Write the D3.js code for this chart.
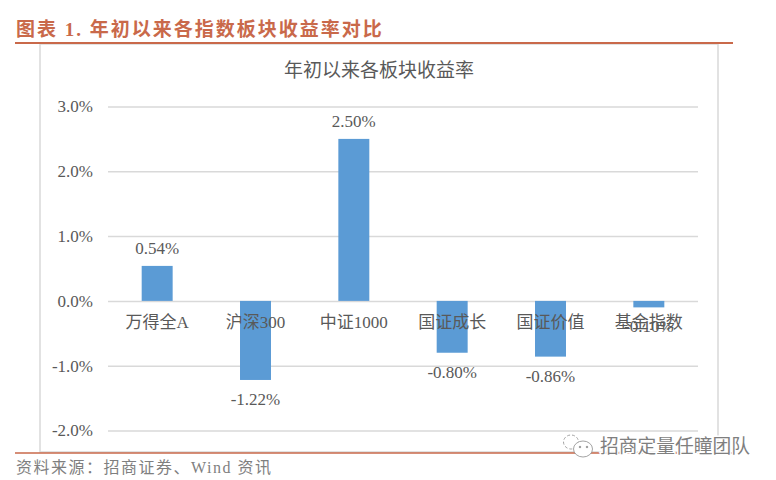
<!DOCTYPE html>
<html>
<head>
<meta charset="utf-8">
<script src="https://cdn.jsdelivr.net/npm/d3@7"></script>
<style>
html, body { margin: 0; padding: 0; background: #fff; }
svg { display: block; }
text { font-family: "Liberation Serif", "Noto Sans CJK SC", serif; }
</style>
</head>
<body>
<svg id="chart" width="776" height="480"></svg>
<script>
var categories = [ '万得全A', '沪深300', '中证1000', '国证成长', '国证价值', '基金指数' ],
    values = [ 0.54, -1.22, 2.50, -0.80, -0.86, -0.10 ],
    yTicks = [ 3, 2, 1, 0, -1, -2 ],
    heading = '图表 1. 年初以来各指数板块收益率对比',
    chartTitle = '年初以来各板块收益率',
    source = '资料来源：招商证券、Wind 资讯',
    watermark = '招商定量任瞳团队';

var rust = '#c9694a',
    gray = '#595959',
    grid = '#d9d9d9',
    blue = '#5b9bd5';

var svg = d3.select( '#chart' );

var x = d3.scaleBand().domain( categories ).range( [ 108, 698 ] )
        .paddingInner( 0.685 ).paddingOuter( 0.3425 ),
    y = d3.scaleLinear().domain( [ -2, 3 ] ).range( [ 430.5, 106.5 ] );

// page furniture
svg.append( 'text' ).attr( 'x', 16 ).attr( 'y', 36 )
    .attr( 'font-size', 19 ).attr( 'font-weight', 700 ).attr( 'letter-spacing', 2 )
    .attr( 'fill', rust ).text( heading );

svg.append( 'rect' ).attr( 'x', 40 ).attr( 'y', 44 ).attr( 'width', 678 ).attr( 'height', 408 )
    .attr( 'fill', '#fff' ).attr( 'stroke', grid ).attr( 'stroke-width', 1.5 );

svg.append( 'line' ).attr( 'x1', 15 ).attr( 'x2', 733 ).attr( 'y1', 43 ).attr( 'y2', 43 )
    .attr( 'stroke', rust ).attr( 'stroke-width', 2 );
svg.append( 'line' ).attr( 'x1', 15 ).attr( 'x2', 733 ).attr( 'y1', 453 ).attr( 'y2', 453 )
    .attr( 'stroke', rust ).attr( 'stroke-width', 1.5 );

svg.append( 'text' ).attr( 'x', 379 ).attr( 'y', 77 ).attr( 'text-anchor', 'middle' )
    .attr( 'font-size', 19 ).attr( 'fill', gray ).text( chartTitle );

svg.append( 'text' ).attr( 'x', 16 ).attr( 'y', 473 )
    .attr( 'font-size', 16 ).attr( 'letter-spacing', 1.5 ).attr( 'fill', '#7f7f7f' ).text( source );

// gridlines and y axis
var yAxis = d3.axisLeft( y ).tickValues( yTicks )
    .tickSize( -590 ).tickPadding( 15 )
    .tickFormat( function( d ) { return d.toFixed( 1 ) + '%'; } );

var axisG = svg.append( 'g' ).attr( 'transform', 'translate(108,0)' ).call( yAxis );
axisG.select( '.domain' ).remove();
axisG.selectAll( '.tick line' ).attr( 'stroke', grid ).attr( 'stroke-width', 1.5 );
axisG.selectAll( '.tick text' ).attr( 'font-size', 17 ).attr( 'fill', gray )
    .style( 'font-family', '"Liberation Serif", serif' );

// bars
svg.append( 'g' ).selectAll( 'rect' ).data( values ).enter().append( 'rect' )
    .attr( 'x', function( d, i ) { return x( categories[ i ] ); } )
    .attr( 'width', x.bandwidth() )
    .attr( 'y', function( d ) { return y( Math.max( d, 0 ) ); } )
    .attr( 'height', function( d ) { return Math.abs( y( d ) - y( 0 ) ); } )
    .attr( 'fill', blue );

// category labels sit right under the zero line, over the bars
svg.append( 'g' ).selectAll( 'text' ).data( categories ).enter().append( 'text' )
    .attr( 'x', function( d ) { return x( d ) + x.bandwidth() / 2; } )
    .attr( 'y', y( 0 ) + 27 )
    .attr( 'text-anchor', 'middle' ).attr( 'font-size', 17 ).attr( 'fill', gray )
    .text( function( d ) { return d; } );

// value labels
svg.append( 'g' ).selectAll( 'text' ).data( values ).enter().append( 'text' )
    .attr( 'x', function( d, i ) { return x( categories[ i ] ) + x.bandwidth() / 2; } )
    .attr( 'y', function( d ) { return d >= 0 ? y( d ) - 12 : y( d ) + 25; } )
    .attr( 'text-anchor', 'middle' ).attr( 'font-size', 17 ).attr( 'fill', gray )
    .text( function( d ) { return d.toFixed( 2 ) + '%'; } );

// wechat mark and watermark
var wm = svg.append( 'g' ).attr( 'fill', '#fff' ).attr( 'stroke', '#8c8c8c' ).attr( 'stroke-width', 0.8 );
wm.append( 'ellipse' ).attr( 'cx', 571 ).attr( 'cy', 442 ).attr( 'rx', 7.5 ).attr( 'ry', 7 ).attr( 'stroke-dasharray', '3 2' );
wm.append( 'ellipse' ).attr( 'cx', 583 ).attr( 'cy', 449 ).attr( 'rx', 9.5 ).attr( 'ry', 8 );
wm.append( 'circle' ).attr( 'cx', 580 ).attr( 'cy', 447 ).attr( 'r', 0.8 ).attr( 'fill', '#8c8c8c' );
wm.append( 'circle' ).attr( 'cx', 587 ).attr( 'cy', 447 ).attr( 'r', 0.8 ).attr( 'fill', '#8c8c8c' );

svg.append( 'text' ).attr( 'x', 600 ).attr( 'y', 453 )
    .attr( 'font-size', 18.75 ).attr( 'fill', '#fff' ).attr( 'stroke', '#fff' ).attr( 'stroke-width', 3 )
    .text( watermark );
svg.append( 'text' ).attr( 'x', 600 ).attr( 'y', 453 )
    .attr( 'font-size', 18.75 ).attr( 'fill', '#7f7f7f' )
    .text( watermark );
</script>
</body>
</html>
